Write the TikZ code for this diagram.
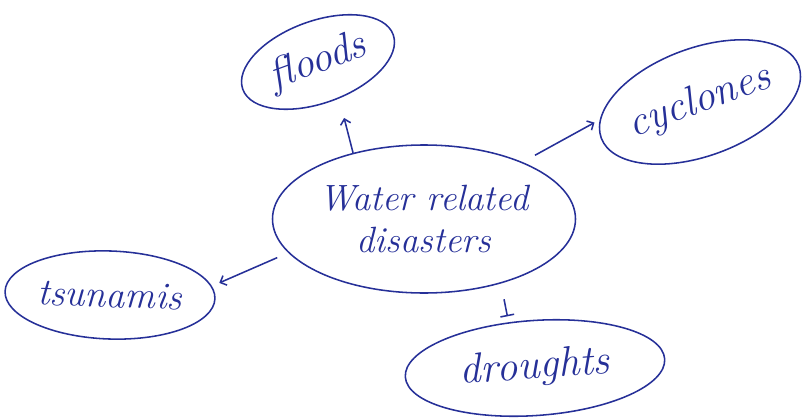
\documentclass[tikz,border=0pt]{standalone}
\usepackage{tikz}
\usetikzlibrary{positioning, arrows.meta, shapes.geometric}

\definecolor{inkblue}{RGB}{38,48,152}

\begin{document}
\begin{tikzpicture}[
    >=Straight Barb,
    bubble/.style={ellipse, draw=inkblue, line width=1.1pt, inner sep=0pt,
                   align=center, text=inkblue,
                   font=\fontsize{30}{32}\selectfont\itshape},
    hub/.style={bubble, minimum width=75.75mm, minimum height=37mm,
                font=\fontsize{26}{30}\selectfont\itshape},
    arrow/.style={->, draw=inkblue, line width=1.1pt},
    stopper/.style={-{Bar[width=3.5mm]}, draw=inkblue, line width=1.1pt}
]
  \useasboundingbox (-106mm, -50mm) rectangle (95.25mm, 54.75mm);

  \node[hub] (centre) at (0, 0) {Water related\\disasters};

  % Outer bubbles
  \node[bubble, minimum width=40mm, minimum height=20.5mm, rotate=20]
       (floods) at (-26.5mm, 39.25mm) {floods};
  \node[bubble, minimum width=52.5mm, minimum height=27mm, rotate=20]
       (cyclones) at (69mm, 29.25mm) {cyclones};
  \node[bubble, minimum width=52.5mm, minimum height=22mm, rotate=-2,
        font=\fontsize{27}{30}\selectfont\itshape]
       (tsunamis) at (-78.5mm, -19mm) {tsunamis};
  \node[bubble, minimum width=65mm, minimum height=23.75mm, rotate=4]
       (droughts) at (27.75mm, -37.25mm) {droughts};

  % Edges from centre
  \draw[arrow, shorten >=5mm] (centre.137) -- (floods.-80);
  \draw[arrow, shorten <=3.5mm, shorten >=1.5mm] (centre.30) -- (cyclones.170);
  \draw[arrow, shorten <=3mm, shorten >=2mm] (centre.194) -- (tsunamis.7);
  \draw[stopper, shorten <=4mm, shorten >=1.5mm] (centre.-40) -- (droughts.116);
\end{tikzpicture}
\end{document}
